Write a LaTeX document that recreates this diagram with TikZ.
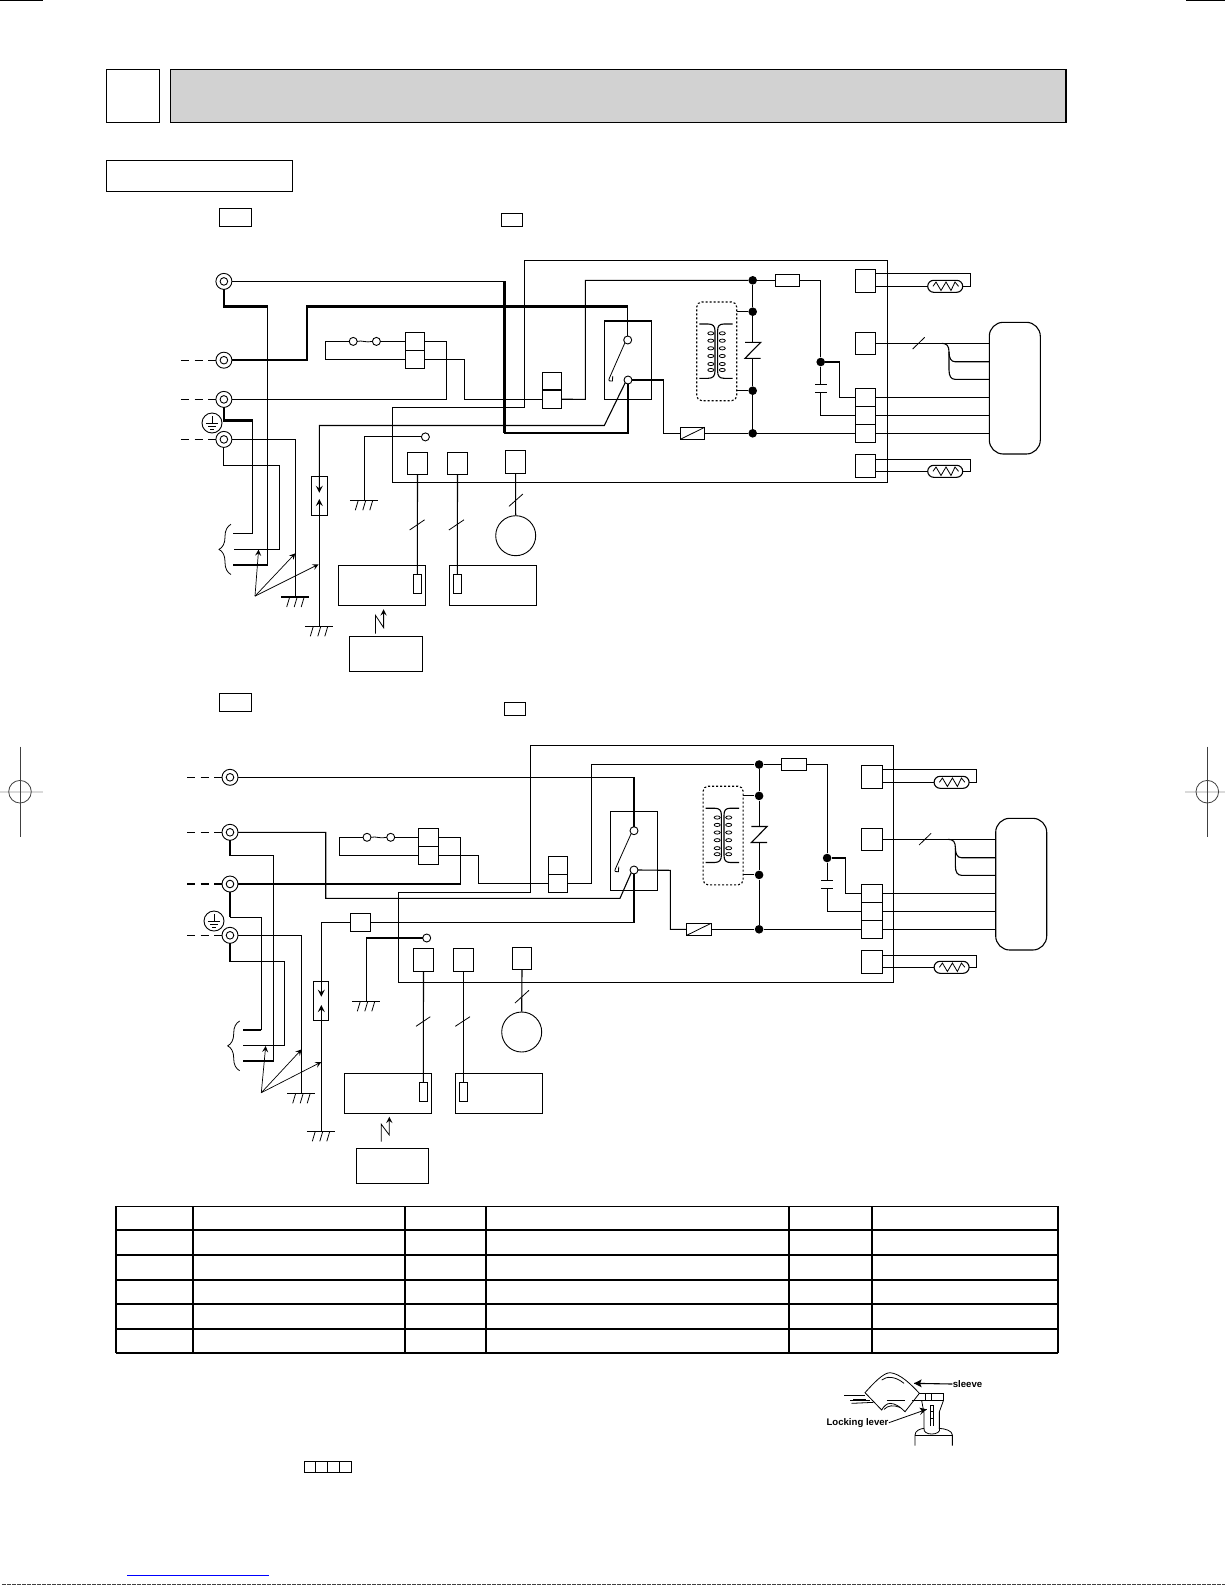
\documentclass[tikz,border=0pt]{standalone}
\usepackage{fontspec}
\setsansfont{Liberation Sans}
\usetikzlibrary{decorations.pathreplacing}

\definecolor{barfill}{HTML}{D2D2D2}
\definecolor{markgray}{HTML}{DADADA}

\tikzset{
  wire/.style = {line width = 0.55pt, line join = miter},
  midwire/.style = {line width = 0.75pt},
  heavy/.style = {line width = 1.25pt},
  hair/.style = {line width = 0.4pt},
  ptr/.style = {line width = 0.35pt, ->, >=stealth},
  dashwire/.style = {line width = 0.55pt, dash pattern = on 4.2pt off 2.6pt},
  tbl/.style = {line width = 0.9pt},
  boxn/.style = {draw, rectangle, inner sep = 0pt, outer sep = 0pt, line width = 0.55pt},
  dotn/.style = {circle, fill = black, inner sep = 0pt, minimum size = 4.3pt},
  termn/.style = {circle, draw, inner sep = 0pt, outer sep = 0pt, minimum size = 8pt, line width = 0.45pt,
    path picture = {\draw[line width = 0.45pt] (path picture bounding box.center) circle [radius = 1.9pt];}},
  smalln/.style = {circle, draw, fill = white, inner sep = 0pt, outer sep = 0pt, minimum size = 4pt, line width = 0.45pt}
}

\newcommand{\boxnode}[6][]{%
  \pgfmathsetmacro{\bcx}{(#3+#5)/2}\pgfmathsetmacro{\bcy}{(#4+#6)/2}%
  \node[boxn, #1, minimum width = {(#5-#3)*0.5pt}, minimum height = {(#6-#4)*0.5pt}] (#2) at (\bcx, \bcy){};}

\newcommand{\groundsym}[3]{%
  \coordinate (#1) at (#2, #3);
  \begin{scope}[shift = {(#2, #3)}]
    \draw[wire] (-14.5, 0.0) -- (13.5, 0.0);
    \foreach \tx in {-6.0, 1.5, 8.5} \draw[hair] (\tx, 0.0) -- (\tx-3.0, 10.0);
  \end{scope}}

\newcommand{\earthsym}[3]{%
  \node[circle, draw, inner sep = 0pt, minimum size = 10pt, line width = 0.45pt] (#1) at (#2, #3){};
  \begin{scope}[shift = {(#2, #3)}]
    \draw[hair] (0.0, -7.0) -- (0.0, 0.0);
    \draw[hair] (-6.2, 0.0) -- (6.2, 0.0);
    \draw[hair] (-3.6, 3.3) -- (3.6, 3.3);
    \draw[hair] (-1.8, 6.5) -- (1.8, 6.5);
  \end{scope}}

\newcommand{\regmark}[2]{%
  \node[circle, draw, inner sep = 0pt, minimum size = 11.3pt, line width = 0.4pt, draw = black!75] (#1) at (#2, 791.7){};
  \draw[line width = 0.5pt, draw = black!75] (#2, 746.7) -- (#2, 836.7);}

\newcommand{\rightpart}[4]{%
  \begin{scope}[shift = {(#2, #3)}]
    \node[dotn] (#1dota) at (752.7, 280.3){};
    \node[dotn] (#1dotb) at (752.7, 311.7){};
    \node[dotn] (#1dotc) at (752.7, 390.7){};
    \boxnode{#1res}{775.3}{274.3}{799.7}{286.3}
    \boxnode[dash pattern = on 1pt off 1pt, rounded corners = 2.5pt]{#1trf}{696.7}{302.0}{736.7}{400.7}
    \coordinate (#1zt) at (752.7, 342.3);
    \coordinate (#1zb) at (752.7, 358.3);
    \draw[wire] (745.0, 342.3) -- (760.7, 342.3) -- (745.0, 358.3) -- (760.7, 358.3);
    \draw[wire] (699.3, 324.0) -- (708.0, 324.0) .. controls (713.0, 324.0) and (715.0, 326.0) .. (715.0, 331.0) -- (715.0, 371.0) .. controls (715.0, 376.0) and (713.0, 378.3) .. (708.0, 378.3) -- (699.3, 378.3);
    \draw[wire] (732.7, 324.0) -- (724.0, 324.0) .. controls (719.3, 324.0) and (717.6, 326.0) .. (717.6, 331.0) -- (717.6, 371.0) .. controls (717.6, 376.0) and (719.3, 378.3) .. (724.0, 378.3) -- (732.7, 378.3);
    \foreach \yy in {333.3, 340.7, 348.3, 356.0, 364.0, 370.0} {
      \draw[hair] (710.8, \yy) ellipse [x radius = 3.0, y radius = 1.6];
      \draw[hair] (722.3, \yy) ellipse [x radius = 3.0, y radius = 1.6];
    }
  \end{scope}
  \begin{scope}[shift = {(#2, #4)}]
    \node[dotn] (#1dotd) at (752.7, 433.3){};
    \node[dotn] (#1dote) at (820.7, 362.0){};
    \boxnode{#1fil}{680.3}{427.3}{704.7}{439.3}
    \draw[hair] (#1fil.south west) -- (#1fil.north east);
    \boxnode{#1cna}{855.3}{388.3}{875.7}{406.3}
    \boxnode{#1cnb}{855.3}{406.3}{875.7}{424.3}
    \boxnode{#1cnc}{855.3}{424.3}{875.7}{442.3}
    \boxnode{#1cnm}{855.3}{332.3}{875.7}{354.3}
    \boxnode[rounded corners = 7pt]{#1fan}{989.3}{322.3}{1040.3}{454.0}
    \coordinate (#1capa) at (820.7, 384.7);
    \coordinate (#1capb) at (820.7, 392.7);
    \draw[wire] (815.0, 384.7) -- (827.0, 384.7);
    \draw[wire] (815.0, 392.7) -- (827.0, 392.7);
    \foreach \n/\yy/\wy in {t/0.0/273.3, u/185.0/274.3} {
      \begin{scope}[shift = {(0.0, \yy)}]
        \boxnode{#1con\n}{855.3}{269.3}{875.7}{292.3}
        \boxnode[rounded corners = 3pt]{#1thm\n}{927.7}{280.3}{962.7}{292.3}
        \coordinate (#1cu\n) at (875.7, \wy);
        \coordinate (#1cl\n) at (875.7, 286.3);
        \draw[hair] (933.0, 286.3) -- (936.0, 282.0) -- (941.0, 290.5) -- (946.0, 282.0) -- (951.0, 290.5) -- (955.0, 282.0) -- (958.5, 286.3);
        \draw[wire] (#1cl\n) -- (#1thm\n.west);
        \draw[wire] (#1thm\n.east) -- (970.3, 286.3) -- (970.3, \wy) -- (#1cu\n);
      \end{scope}
    }
    \coordinate (#1fa) at (989.3, 361.7);
    \coordinate (#1fb) at (989.3, 379.3);
    \draw[wire] (#1cnm.east) -- (#1fan.west |- #1cnm.east);
    \draw[hair] (912.7, 349.0) -- (924.7, 337.3);
    \draw[wire] (941.7, 343.3) .. controls (947.0, 343.3) and (949.0, 346.0) .. (949.0, 352.0) .. controls (949.0, 358.0) and (951.0, 361.7) .. (955.0, 361.7) -- (#1fa);
    \draw[wire] (949.0, 352.0) -- (949.0, 370.0) .. controls (949.0, 376.0) and (951.0, 379.3) .. (955.0, 379.3) -- (#1fb);
    \draw[wire] (#1cna.east) -- (#1fan.west |- #1cna.east);
    \draw[wire] (#1cnb.east) -- (#1fan.west |- #1cnb.east);
    \draw[wire] (#1cnc.east) -- (#1fan.west |- #1cnc.east);
    \draw[wire] (#1dote) -- (839.3, 362.0) |- (#1cna.west);
    \draw[wire] (#1capb) |- (#1cnb.west);
    \draw[wire] (#1dote) -- (#1capa);
  \end{scope}
  \draw[wire] (#1dota) -- (#1res.west);
  \draw[wire] (#1res.east) -| (#1dote);
  \draw[wire] (#1dota) -- (#1dotb) -- (#1zt);
  \draw[wire] (#1zb) -- (#1dotc) -- (#1dotd);
  \draw[wire] (#1trf.east |- #1dotb) -- (#1dotb);
  \draw[wire] (#1trf.east |- #1dotc) -- (#1dotc);
  \draw[wire] (#1fil.east) -- (#1dotd) -- (#1cnc.west);
}

\begin{document}
\begin{tikzpicture}[x = 0.5pt, y = -0.5pt]
\useasboundingbox (0, 0) rectangle (1225, 1585);

\draw[line width = 0.6pt] (0.0, 0.6) -- (43.0, 0.6);
\draw[line width = 0.6pt] (1186.0, 0.6) -- (1225.0, 0.6);
\draw[markgray, line width = 0.8pt] (0.0, 791.7) -- (42.7, 791.7);
\draw[markgray, line width = 0.8pt] (1185.0, 791.7) -- (1225.0, 791.7);
\regmark{rml}{20.0}
\regmark{rmr}{1207.3}
\draw[blue, line width = 0.5pt] (127.3, 1575.3) -- (268.7, 1575.3);
\draw[black!75, line width = 0.5pt, dash pattern = on 2pt off 0.5pt] (2.0, 1584.4) -- (1225.0, 1584.4);

\boxnode{numbox}{106.4}{69.3}{159.6}{122.6}
\boxnode[fill = barfill]{titlebar}{170.7}{69.3}{1066.0}{122.6}
\boxnode{subbox}{106.4}{160.2}{292.5}{191.6}

\boxnode{tagaa}{219.3}{208.4}{251.8}{226.7}
\boxnode{tagab}{501.4}{213.3}{522.5}{226.7}
\rightpart{p}{0.0}{0.0}{0.0}
\draw[wire] (524.3, 260.2) -- (887.3, 260.2) -- (887.3, 482.3) -- (392.5, 482.3) -- (392.5, 407.6) -- (524.3, 407.6) -- cycle;

\node[termn] (ta) at (223.9, 281.4){};
\node[termn] (tb) at (223.9, 360.2){};
\node[termn] (tc) at (223.9, 399.4){};
\node[termn] (td) at (223.9, 439.4){};
\earthsym{ea}{212.0}{423.0}
\foreach \t in {tb, tc, td} {
  \path (\t.west) ++(-35.0, 0.0) coordinate (\t f);
  \draw[dashwire] (\t f) -- (\t.west);
}

\boxnode{pra}{604.3}{321.0}{651.7}{399.4}
\node[smalln] (pua) at (627.7, 340.0){};
\node[smalln] (pub) at (628.0, 380.0){};
\draw[hair] (pua.south west) -- (609.3, 378.3) .. controls (608.0, 381.0) and (610.0, 381.5) .. (612.5, 381.0) -- (612.7, 376.0);

\node[smalln] (psa) at (353.2, 341.4){};
\node[smalln] (psb) at (376.4, 341.4){};
\draw[hair] (psa.east) .. controls (362.0, 340.0) and (366.0, 343.0) .. (psb.west);
\boxnode{pka}{405.4}{332.4}{424.6}{350.4}
\boxnode{pkb}{405.4}{350.4}{424.6}{368.4}
\boxnode{pcx}{542.5}{372.4}{561.8}{390.0}
\boxnode{pcy}{542.5}{390.0}{561.8}{408.4}
\draw[wire] (psb.east) -- (pka.west);
\draw[wire] (psa.west) -- (325.7, 341.4) |- (pkb.west);
\draw[wire] (pkb.east) -- (464.6, 359.4) |- (pcy.west);
\draw[wire] (pcy.east) -- (585.4, 399.4) |- (pdota);
\draw[wire] (tc.east) -- (446.4, 399.4) |- (pka.east);

\boxnode{pfu}{311.4}{476.5}{327.5}{515.3}
\coordinate (pfa) at (319.3, 492.8);
\coordinate (pfb) at (319.3, 499.0);
\groundsym{gpa}{295.7}{597.0}
\groundsym{gpb}{319.3}{626.3}
\groundsym{gpc}{364.3}{500.2}

\coordinate (ja) at (504.3, 281.4);
\coordinate (jb) at (504.3, 432.9);
\coordinate (jc) at (267.5, 306.3);
\coordinate (jd) at (306.8, 306.7);
\coordinate (je) at (627.7, 306.7);
\coordinate (jf) at (252.5, 420.6);
\coordinate (bpa) at (232.9, 533.3);
\coordinate (bpb) at (234.0, 549.2);
\coordinate (bpc) at (232.9, 565.0);
\draw[wire] (ta.east) -- (ja);
\draw[heavy] (ja) -- (jb);
\draw[midwire] (jb) -| (pub.south);
\draw[heavy] (ta.south) |- (jc);
\draw[wire] (jc) |- (bpc);
\draw[heavy] (tb.east) -| (jd) -- (je);
\draw[wire] (je) -- (pua.north);
\draw[heavy] (tc.south) |- (jf);
\draw[wire] (jf) |- (bpa);
\draw[wire] (td.east) -| (gpa);
\draw[wire] (td.south) |- (279.3, 465.5) |- (bpb);
\draw[wire, ->, >=stealth] (pub.south west) -- (604.3, 425.5) -| (pfa);
\draw[wire, ->, >=stealth] (gpb) -- (pfb);
\draw[wire] (pub.east) -- (663.7, 380.0) |- (pfil.west);

\node[smalln] (pgt) at (425.4, 436.9){};
\draw[wire] (pgt.west) -| (gpc);

\draw[hair, decorate, decoration = {brace, amplitude = 6pt}] (231.0, 574.5) -- (231.0, 524.3);
\coordinate (ppt) at (255.0, 596.1);
\draw[ptr] (ppt) -- (258.6, 549.6);
\draw[ptr] (ppt) -- (295.4, 553.3);
\draw[ptr] (ppt) -- (318.6, 564.3);

\boxnode{pja}{407.5}{452.4}{427.5}{474.5}
\boxnode{pjb}{447.5}{452.4}{467.5}{474.5}
\boxnode{pjc}{505.7}{450.4}{525.4}{473.3}
\boxnode{prc}{338.2}{565.5}{425.4}{605.5}
\boxnode{pdr}{449.3}{565.5}{536.4}{605.5}
\boxnode{prm}{349.6}{636.5}{422.5}{671.2}
\boxnode{pla}{413.2}{574.5}{421.4}{593.3}
\boxnode{plb}{453.2}{574.5}{461.4}{593.3}
\node[circle, draw, inner sep = 0pt, minimum size = 20pt, line width = 0.45pt] (pmo) at (515.7, 535.7){};
\draw[wire] (pja.south) -- (pla.north);
\draw[wire] (pjb.south) -- (plb.north);
\draw[wire] (pjc.south) -- (pmo.north);
\draw[hair] (409.6, 530.0) -- (424.6, 519.8);
\draw[hair] (448.9, 530.0) -- (464.0, 519.8);
\draw[hair] (509.0, 506.3) -- (522.9, 494.0);
\coordinate (pza) at (375.4, 633.7);
\draw[hair, ->, >=stealth] (pza) -- (375.4, 615.2) -- (383.6, 627.6) -- (383.6, 609.2);

\boxnode{tagba}{219.3}{693.3}{251.3}{711.3}
\boxnode{tagbb}{504.3}{702.3}{525.7}{715.3}
\rightpart{q}{6.4}{484.2}{496.0}
\draw[wire] (530.3, 745.3) -- (893.7, 745.3) -- (893.7, 982.3) -- (398.3, 982.3) -- (398.3, 892.3) -- (530.3, 892.3) -- cycle;

\node[termn] (wa) at (230.0, 777.3){};
\node[termn] (wb) at (230.0, 832.3){};
\node[termn] (wc) at (230.0, 884.0){};
\node[termn] (wd) at (230.0, 935.3){};
\earthsym{eb}{214.0}{921.0}
\foreach \t in {wa, wb, wc, wd} {
  \path (\t.west) ++(-35.0, 0.0) coordinate (\t f);
  \draw[dashwire] (\t f) -- (\t.west);
}

\boxnode{qra}{610.3}{811.3}{657.3}{890.3}
\node[smalln] (qua) at (634.0, 830.7){};
\node[smalln] (qub) at (634.0, 870.0){};
\draw[hair] (qua.south west) -- (615.3, 869.0) .. controls (614.0, 871.7) and (616.0, 872.2) .. (618.5, 871.7) -- (618.7, 866.7);

\node[smalln] (qsa) at (367.0, 837.3){};
\node[smalln] (qsb) at (390.7, 837.3){};
\draw[hair] (qsa.east) .. controls (376.0, 836.0) and (380.0, 839.0) .. (qsb.west);
\boxnode{qka}{418.3}{828.3}{438.7}{846.3}
\boxnode{qkb}{418.3}{846.3}{438.7}{864.3}
\boxnode{qcx}{548.3}{856.3}{567.3}{874.3}
\boxnode{qcy}{548.3}{874.3}{567.3}{892.3}
\draw[wire] (qsb.east) -- (qka.west);
\draw[wire] (qsa.west) -- (339.3, 837.3) |- (qkb.west);
\draw[wire] (qkb.east) -- (478.7, 855.3) |- (qcy.west);
\draw[wire] (qcy.east) -- (591.3, 883.3) |- (qdota);
\draw[wire] (wc.east) -- (460.7, 884.0) |- (qka.east);

\boxnode{qfu}{313.3}{981.3}{328.3}{1020.3}
\boxnode{qcn}{350.3}{913.3}{370.3}{931.3}
\coordinate (qfa) at (321.3, 996.7);
\coordinate (qfb) at (321.3, 1005.0);
\groundsym{gqa}{301.7}{1093.3}
\groundsym{gqb}{321.3}{1131.3}
\groundsym{gqc}{366.3}{1001.3}

\coordinate (ka) at (230.0, 855.7);
\coordinate (kb) at (230.0, 917.3);
\coordinate (kc) at (261.3, 1030.0);
\coordinate (bqa) at (243.0, 1030.0);
\coordinate (bqb) at (243.0, 1045.3);
\coordinate (bqc) at (243.0, 1061.0);
\draw[wire] (wa.east) -| (qua.north);
\draw[wire] (wb.east) -- (325.7, 832.3) |- (620.0, 898.3) -- (qub.south west);
\draw[heavy] (wb.south) -- (ka);
\draw[wire] (ka) -- (273.7, 855.7) |- (bqc);
\draw[heavy] (wc.south) -- (kb);
\draw[wire] (kb) -| (kc);
\draw[heavy] (kc) -- (bqa);
\draw[wire] (wd.east) -| (gqa);
\draw[wire] (wd.south) |- (284.3, 961.3) |- (bqb);
\draw[wire, ->, >=stealth] (qcn.west) -| (qfa);
\draw[wire, ->, >=stealth] (gqb) -- (qfb);
\draw[wire] (qcn.east) -| (qub.south);
\draw[wire] (qub.east) -- (670.3, 870.3) |- (qfil.west);

\node[smalln] (qgt) at (426.7, 938.0){};
\draw[wire] (qgt.west) -| (gqc);

\draw[hair, decorate, decoration = {brace, amplitude = 6pt}] (239.7, 1070.7) -- (239.7, 1021.0);
\coordinate (qpt) at (261.3, 1092.7);
\draw[ptr] (qpt) -- (265.7, 1046.0);
\draw[ptr] (qpt) -- (301.7, 1049.3);
\draw[ptr] (qpt) -- (321.3, 1062.0);

\boxnode{qja}{413.3}{948.3}{433.7}{971.3}
\boxnode{qjb}{453.3}{948.3}{473.3}{971.3}
\boxnode{qjc}{512.3}{947.3}{531.7}{969.3}
\boxnode{qrc}{344.7}{1073.3}{431.7}{1113.3}
\boxnode{qdr}{455.3}{1073.3}{542.3}{1113.3}
\boxnode{qrm}{356.3}{1148.3}{428.3}{1183.3}
\boxnode{qla}{419.3}{1082.3}{427.3}{1101.3}
\boxnode{qlb}{459.3}{1082.3}{467.3}{1101.3}
\node[circle, draw, inner sep = 0pt, minimum size = 20pt, line width = 0.45pt] (qmo) at (521.7, 1032.0){};
\draw[wire] (qja.south) -- (qla.north);
\draw[wire] (qjb.south) -- (qlb.north);
\draw[wire] (qjc.south) -- (qmo.north);
\draw[hair] (416.0, 1026.3) -- (430.3, 1016.7);
\draw[hair] (455.3, 1026.3) -- (470.0, 1016.7);
\draw[hair] (515.0, 1003.0) -- (529.0, 990.3);
\coordinate (qza) at (381.3, 1141.7);
\draw[hair, ->, >=stealth] (qza) -- (381.3, 1124.3) -- (389.3, 1135.0) -- (389.3, 1116.7);

\foreach \yy in {1230.3, 1255.0, 1279.7, 1303.7, 1328.7, 1353.0} \draw[tbl] (115.7, \yy) -- (1058.0, \yy);
\draw[wire] (115.7, 1206.3) -- (1058.0, 1206.3);
\foreach \xx in {115.7, 193.0, 405.0, 486.0, 789.0, 871.7, 1058.0} \draw[tbl] (\xx, 1206.3) -- (\xx, 1353.0);

\foreach \i/\xa/\xb in {a/304.3/315.7, b/315.7/327.7, c/327.7/339.7, d/339.7/351.3} {
  \boxnode{cell\i}{\xa}{1461.3}{\xb}{1472.3}
}

\node[font = \sffamily\bfseries\fontsize{4.8}{5.5}\selectfont, inner sep = 0pt] (lbs) at (967.5, 1384.0){sleeve};
\node[font = \sffamily\bfseries\fontsize{4.8}{5.5}\selectfont, inner sep = 0pt] (lbl) at (857.5, 1422.7){Locking lever};
\begin{scope}[shift = {(780, 1350)}, x = 0.1667pt, y = -0.1667pt]
\coordinate (tps) at (402, 100);
\coordinate (tpl) at (440, 178);
\draw[hair] (255, 128) .. controls (280, 100) and (310, 68) .. (330, 68) .. controls (360, 70) and (395, 105) .. (418, 130) -- (375, 185) .. controls (360, 170) and (345, 160) .. (330, 160) .. controls (320, 160) and (310, 170) .. (305, 180) -- cycle;
\draw[hair] (305, 90) .. controls (320, 78) and (345, 78) .. (372, 100);
\draw[hair] (312, 178) .. controls (325, 165) and (340, 165) .. (360, 172);
\draw[hair] (192, 135) -- (255, 135);
\draw[hair] (220, 147) -- (258, 147);
\draw[hair] (210, 152) -- (270, 152);
\draw[hair] (215, 160) -- (280, 157);
\draw[hair] (320, 152) -- (375, 152);
\draw[hair] (418, 130) -- (490, 130) -- (490, 152) -- (425, 152) -- (395, 152);
\draw[hair] (437, 130) -- (437, 152);
\draw[hair] (453, 130) -- (453, 152);
\draw[hair] (425, 152) -- (432, 190) -- (432, 235);
\draw[hair] (490, 152) -- (478, 185) -- (478, 235);
\draw[hair] (450, 228) -- (450, 165) -- (460, 165) -- (460, 228);
\draw[hair] (450, 185) -- (460, 185);
\draw[hair] (450, 205) -- (460, 205);
\draw[hair] (405, 287) -- (405, 255) .. controls (405, 242) and (420, 236) .. (432, 235) .. controls (430, 245) and (440, 252) .. (455, 252) .. controls (470, 252) and (482, 245) .. (478, 235) .. controls (495, 236) and (517, 242) .. (517, 255) -- (517, 287);
\draw[hair] (405, 255) -- (517, 255);
\draw[wire] (lbs.west) -- (tps);
\draw[hair] (lbl.east) -- (tpl);
\fill (tps) -- (425, 88) -- (420, 100) -- (425, 112) -- cycle;
\fill (tpl) -- (418, 173) -- (426, 184) -- (420, 195) -- cycle;
\end{scope}
\end{tikzpicture}
\end{document}
